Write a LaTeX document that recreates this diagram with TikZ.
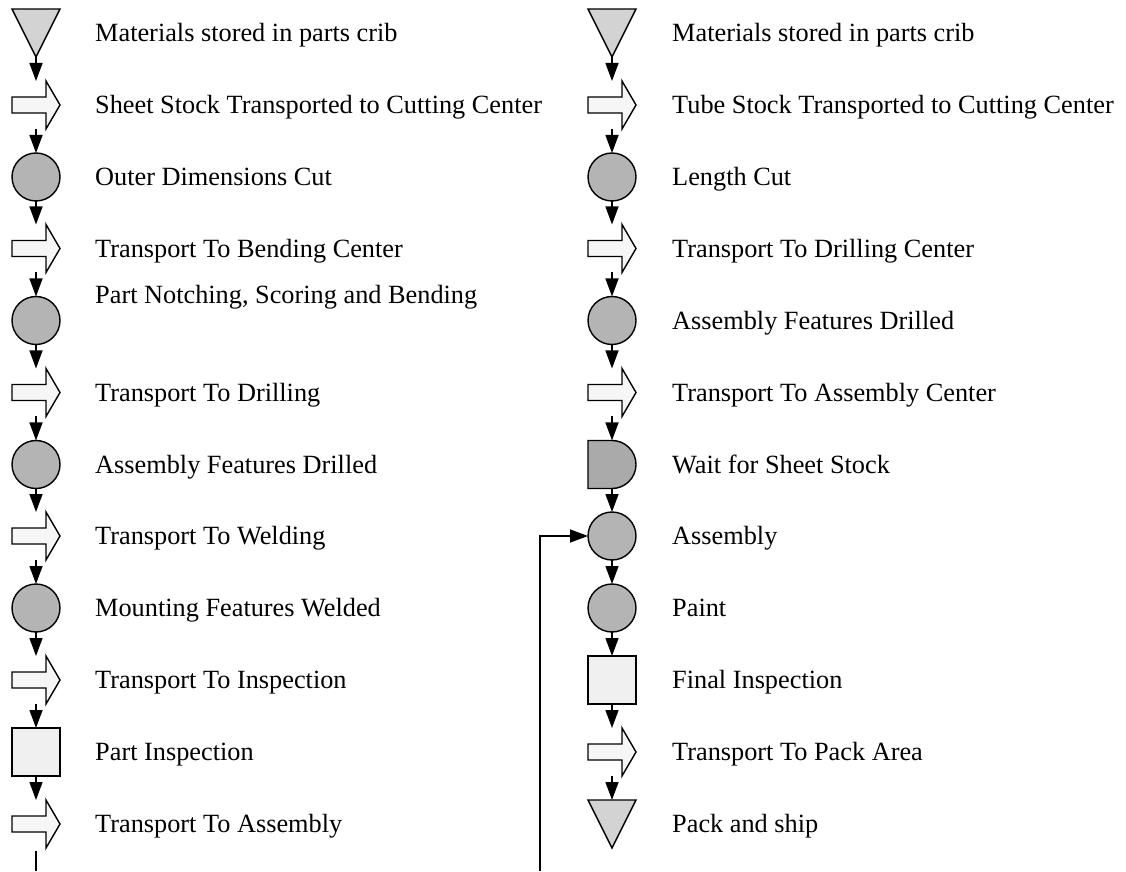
\documentclass[tikz,border=0pt]{standalone}
\usepackage{fontspec}
\setmainfont{Liberation Serif}
\usetikzlibrary{arrows.meta}
\definecolor{trifill}{RGB}{211,211,211}
\definecolor{circfill}{RGB}{180,180,180}
\definecolor{delayfill}{RGB}{170,170,170}
\definecolor{sqfill}{RGB}{240,240,240}
\definecolor{movefill}{RGB}{246,246,246}
\tikzset{
  box/.style={rectangle, draw=none, minimum width=48pt, minimum height=48pt, inner sep=0pt, outer sep=0pt},
  opcirc/.style={circle, draw=black, line width=1.4pt, fill=circfill, minimum size=48pt, inner sep=0pt, outer sep=0pt},
  insp/.style={rectangle, draw=black, line width=1.4pt, fill=sqfill, minimum width=48pt, minimum height=48pt, inner sep=0pt, outer sep=0pt},
  trisym/.style={draw=black, line width=1.4pt, fill=trifill, line join=miter},
  movesym/.style={draw=black, line width=1.4pt, fill=movefill, line join=miter},
  delaysym/.style={draw=black, line width=1.4pt, fill=delayfill},
  flow/.style={draw=black, line width=1.4pt, -{Triangle[length=18pt,width=13pt]}},
  plainline/.style={draw=black, line width=1.4pt},
  lab/.style={anchor=base west, inner sep=0pt, font=\fontsize{26.3}{31}\selectfont}
}
\newcommand\SymTri[1]{\draw[trisym] (#1.north west) -- (#1.north east) -- (#1.south) -- cycle;}
\newcommand\SymMove[1]{\draw[movesym] ([yshift=8pt]#1.west) -- ([xshift=34pt,yshift=8pt]#1.west) -- ([xshift=34pt]#1.north west) -- (#1.east) -- ([xshift=34pt]#1.south west) -- ([xshift=34pt,yshift=-8pt]#1.west) -- ([yshift=-8pt]#1.west) -- cycle;}
\newcommand\SymDelay[1]{\draw[delaysym] (#1.south west) -- (#1.north west) -- (#1.north) arc[start angle=90,end angle=-90,radius=24pt] -- cycle;}
\begin{document}
\begin{tikzpicture}[x=1pt,y=1pt]
\useasboundingbox (0,0) rectangle (1126,871);
% ---------- left column ----------
\node[box] (L1) at (36,838) {};
\node[box] (L2) at (36,766) {};
\node[opcirc] (L3) at (36,694) {};
\node[box] (L4) at (36,622.5) {};
\node[opcirc] (L5) at (36,550.5) {};
\node[box] (L6) at (36,478.5) {};
\node[opcirc] (L7) at (36,406.5) {};
\node[box] (L8) at (36,335) {};
\node[opcirc] (L9) at (36,263) {};
\node[box] (L10) at (36,191) {};
\node[insp] (L11) at (36,119) {};
\node[box] (L12) at (36,47) {};
\SymTri{L1}
\SymMove{L2}
\SymMove{L4}
\SymMove{L6}
\SymMove{L8}
\SymMove{L10}
\SymMove{L12}
% ---------- right column ----------
\node[box] (R1) at (612,838) {};
\node[box] (R2) at (612,766) {};
\node[opcirc] (R3) at (612,694) {};
\node[box] (R4) at (612,622.5) {};
\node[opcirc] (R5) at (612,550.5) {};
\node[box] (R6) at (612,478.5) {};
\node[box] (R7) at (612,406.5) {};
\node[opcirc] (R8) at (612,335) {};
\node[opcirc] (R9) at (612,263) {};
\node[insp] (R10) at (612,191) {};
\node[box] (R11) at (612,119) {};
\node[box] (R12) at (612,47) {};
\SymTri{R1}
\SymMove{R2}
\SymMove{R4}
\SymMove{R6}
\SymDelay{R7}
\SymMove{R11}
\SymTri{R12}
% ---------- connectors ----------
\foreach \a/\b in {L1/L2,L2/L3,L3/L4,L4/L5,L5/L6,L6/L7,L7/L8,L8/L9,L9/L10,L10/L11,L11/L12,
                   R1/R2,R2/R3,R3/R4,R4/R5,R5/R6,R6/R7,R7/R8,R8/R9,R9/R10,R10/R11,R11/R12}
  \draw[flow] (\a) -- (\b);
\coordinate (Lend) at (36,0);
\draw[plainline] ([yshift=-3pt]L12.south) -- (Lend);
\coordinate (fb) at (540,0);
\draw[flow] (fb) |- (R8.west);
% ---------- labels ----------
\node[lab] (tL1) at (95,829.4) {Materials stored in parts crib};
\node[lab] (tL2) at (95,757.4) {Sheet Stock Transported to Cutting Center};
\node[lab] (tL3) at (95,685.4) {Outer Dimensions Cut};
\node[lab] (tL4) at (95,613.9) {Transport To Bending Center};
\node[lab] (tL5) at (95,567) {Part Notching, Scoring and Bending};
\node[lab] (tL6) at (95,469.9) {Transport To Drilling};
\node[lab] (tL7) at (95,397.9) {Assembly Features Drilled};
\node[lab] (tL8) at (95,326.4) {Transport To Welding};
\node[lab] (tL9) at (95,254.4) {Mounting Features Welded};
\node[lab] (tL10) at (95,182.4) {Transport To Inspection};
\node[lab] (tL11) at (95,110.4) {Part Inspection};
\node[lab] (tL12) at (95,38.4) {Transport To Assembly};
\node[lab] (tR1) at (672,829.4) {Materials stored in parts crib};
\node[lab] (tR2) at (672,757.4) {Tube Stock Transported to Cutting Center};
\node[lab] (tR3) at (672,685.4) {Length Cut};
\node[lab] (tR4) at (672,613.9) {Transport To Drilling Center};
\node[lab] (tR5) at (672,541.9) {Assembly Features Drilled};
\node[lab] (tR6) at (672,469.9) {Transport To Assembly Center};
\node[lab] (tR7) at (672,397.9) {Wait for Sheet Stock};
\node[lab] (tR8) at (672,326.4) {Assembly};
\node[lab] (tR9) at (672,254.4) {Paint};
\node[lab] (tR10) at (672,182.4) {Final Inspection};
\node[lab] (tR11) at (672,110.4) {Transport To Pack Area};
\node[lab] (tR12) at (672,38.4) {Pack and ship};
\end{tikzpicture}
\end{document}
